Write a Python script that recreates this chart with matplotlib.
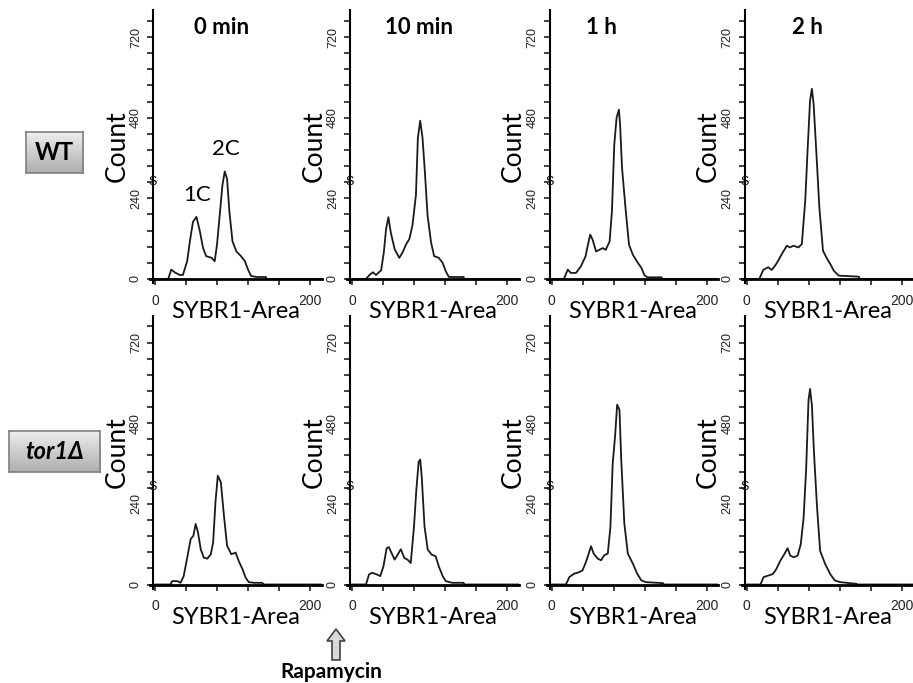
import numpy as np
import matplotlib
matplotlib.use("Agg")
import matplotlib.pyplot as plt
from matplotlib.patches import Polygon

plt.rcParams['font.family'] = ['Lato', 'DejaVu Sans']

# ---- data ----
times = ['0 min', '10 min', '1 h', '2 h']
strains = ['WT', 'tor1Δ']

wt_0_x = [0, 17, 21, 26, 32, 36, 41.5, 45, 49, 53.5, 58, 62, 66, 73, 77, 80, 83.5, 87, 90, 93, 96, 100, 105, 111, 116, 120, 124, 131, 143, 144, 215]
wt_0_y = [0, 0, 28, 19, 12, 12, 53, 112, 170, 185, 141, 92, 68, 63, 53, 102, 190, 279, 320, 298, 200, 112, 82, 68, 53, 28, 9, 6, 6, 0, 0]

wt_10_x = [0, 18, 23, 27, 31, 37.6, 41, 44, 47, 50, 55, 61, 65, 70, 74, 78, 82.5, 85, 88, 91, 94, 97.5, 102, 106, 112, 117, 121, 125, 144, 145, 215]
wt_10_y = [0, 0, 13, 20, 12, 26, 78, 149, 184, 139, 89, 63, 78, 104, 119, 159, 250, 420, 471, 420, 320, 189, 109, 68, 63, 48, 23, 6, 6, 0, 0]

wt_1h_x = [0, 16, 21, 25, 31.5, 38, 44, 47, 50, 53, 57.5, 62, 66, 70, 75, 78, 81, 84, 87, 88.5, 91, 95.5, 100, 105, 111.5, 116, 120, 124, 142, 143, 215]
wt_1h_y = [0, 0, 28, 18, 18, 38, 68, 102, 132, 117, 82, 87, 92, 87, 112, 202, 400, 480, 504, 460, 331, 211, 102, 72, 48, 33, 11, 5, 5, 0, 0]

wt_2h_x = [0, 16.5, 21.6, 28, 32.5, 37, 41, 45.5, 52, 56, 60.6, 67, 71.4, 75.8, 79, 82, 84.4, 86.6, 90, 94, 98.7, 104, 108, 112.5, 119, 145, 146, 215]
wt_2h_y = [0, 0, 27, 35, 27, 40, 55, 74, 99, 94, 99, 94, 104, 233, 392, 531, 566, 521, 382, 213, 84, 60, 45, 25, 10, 7, 0, 0]

tor_0_x = [0, 20, 22, 29, 33, 37, 42, 46, 49.5, 52.5, 55.5, 59, 63, 67.5, 72, 75, 78, 81, 85, 89, 93, 98.5, 104, 108, 113, 117, 121, 128, 138, 141, 215]
tor_0_y = [0, 0, 10, 10, 5, 25, 85, 135, 145, 180, 155, 105, 80, 77, 90, 125, 244, 324, 304, 204, 115, 90, 95, 70, 45, 20, 7, 5, 5, 0, 0]

tor_10_x = [0, 18, 22, 26, 32, 36.4, 40.6, 44.7, 47.6, 51, 55, 59, 63, 67.5, 71.6, 75.8, 80, 83, 86, 88, 90, 93.6, 97.7, 102.7, 108, 112, 117, 121, 129.6, 144, 145, 215]
tor_10_y = [0, 0, 30, 35, 30, 25, 54, 108, 111, 94, 74, 89, 105, 79, 74, 64, 172, 281, 365, 372, 320, 172, 104, 89, 84, 54, 25, 10, 5, 5, 0, 0]

tor_1h_x = [0, 18.6, 23, 29, 36, 40, 44.5, 48, 51, 54.4, 59.6, 64, 68, 72.6, 76, 79, 82, 84.7, 87.7, 90, 94, 98.5, 105, 110.6, 116, 122, 144, 145, 215]
tor_1h_y = [0, 0, 22, 32, 37, 42, 67, 92, 114, 92, 77, 72, 87, 92, 171, 361, 440, 535, 520, 371, 181, 92, 62, 32, 12, 7, 4, 0, 0]

tor_2h_x = [0, 18, 22, 28.7, 34, 38.5, 43.7, 49, 53, 56.5, 61, 66, 70, 73.7, 77, 80, 82, 84.4, 87, 90.8, 95, 101.5, 108, 114, 121, 142, 143, 215]
tor_2h_y = [0, 0, 22, 27, 31, 46, 71, 91, 108, 86, 81, 86, 120, 199, 346, 548, 582, 533, 396, 238, 100, 61, 31, 12, 7, 2, 0, 0]

series = [
    [(wt_0_x, wt_0_y), (wt_10_x, wt_10_y), (wt_1h_x, wt_1h_y), (wt_2h_x, wt_2h_y)],
    [(tor_0_x, tor_0_y), (tor_10_x, tor_10_y), (tor_1h_x, tor_1h_y), (tor_2h_x, tor_2h_y)],
]

title_x = [86, 86, 65, 78]

# ---- layout (pixels of the 913x683 canvas) ----
W, H = 913, 683
col_x0 = [155, 352, 551.5, 746.5]
row_y0 = [279, 584.5]
sx, sy = 0.775, 0.336
XMIN, XMAX, YMIN, YMAX = -6, 215, -12, 800

fig = plt.figure(figsize=(W / 100, H / 100), dpi=100)

for r in range(2):
    for c in range(4):
        left = col_x0[c] + XMIN * sx
        width = (XMAX - XMIN) * sx
        bottom = row_y0[r] - YMIN * sy
        height = (YMAX - YMIN) * sy
        ax = fig.add_axes([left / W, 1 - bottom / H, width / W, height / H])
        ax.set_facecolor('none')
        x, y = series[r][c]
        ax.plot(x, y, color='#1a1a1a', lw=1.3)
        ax.set_xlim(XMIN, XMAX)
        ax.set_ylim(YMIN, YMAX)
        for s in ['top', 'right']:
            ax.spines[s].set_visible(False)
        ax.spines['left'].set_position(('data', -2.5))
        ax.spines['bottom'].set_position(('data', 0))
        ax.spines['left'].set_linewidth(1.5)
        ax.spines['bottom'].set_linewidth(2.0)
        ax.set_xticks([0, 200])
        ax.set_xticks([40, 80, 120, 160], minor=True)
        ax.set_yticks([0, 240, 480, 720])
        ax.set_yticks(np.arange(48, 780, 48), minor=True)
        ax.tick_params(which='both', direction='out', length=4, width=1.2, color='#222222')
        ax.tick_params(axis='x', pad=6.5, labelsize=10)
        ax.tick_params(axis='y', pad=4, labelsize=9)
        for lab in ax.get_xticklabels():
            lab.set_family('Liberation Sans')
            lab.set_color('#222222')
        for lab in ax.get_yticklabels():
            lab.set_family('Liberation Sans')
            lab.set_rotation(90)
            lab.set_va('center')
            lab.set_color('#222222')
        ax.set_xlabel('SYBR1-Area', fontsize=17)
        ax.xaxis.set_label_coords(0.5, (bottom - (row_y0[r] + 32.5)) / height)
        ax.xaxis.label.set_va('center')
        ax.set_ylabel('Count', fontsize=19)
        ax.yaxis.set_label_coords((col_x0[c] - 38 - left) / width, 0.5)
        ax.yaxis.label.set_va('center')
        ax.text(-3, 290, 'S', fontsize=9, family='Liberation Sans', ha='center', va='center')
        if r == 0:
            ax.text(title_x[c], 750, times[c], fontsize=16, fontweight='bold', ha='center', va='center')
        if r == 0 and c == 0:
            ax.text(54, 250, '1C', fontsize=16, ha='center', va='center')
            ax.text(91, 387, '2C', fontsize=16, ha='center', va='center')

# ---- strain label boxes with gray gradient ----
grad = np.linspace(0.93, 0.68, 64).reshape(-1, 1)
boxes = [(26, 132, 57, 41, 'WT', 'normal'), (9, 431, 91, 41, 'tor1Δ', 'italic')]
for bx, by, bw, bh, txt, style in boxes:
    bax = fig.add_axes([bx / W, 1 - (by + bh) / H, bw / W, bh / H])
    bax.imshow(grad, cmap='gray', vmin=0, vmax=1, aspect='auto', extent=[0, 1, 0, 1])
    bax.set_xticks([])
    bax.set_yticks([])
    for s in bax.spines.values():
        s.set_color('#7f7f7f')
        s.set_linewidth(1.2)
    bax.text(0.5, 0.5, txt, fontsize=17, fontweight='bold', style=style,
             ha='center', va='center', transform=bax.transAxes)

# ---- rapamycin arrow ----
arrow_px = [(336, 629), (345, 641), (340, 641), (340, 660), (332, 660), (332, 641), (327, 641)]
arrow = Polygon([(px / W, 1 - py / H) for px, py in arrow_px], closed=True,
                facecolor='#d9d9d9', edgecolor='#404040', lw=1.2, transform=fig.transFigure)
fig.patches.append(arrow)
fig.text(331 / W, 1 - 672 / H, 'Rapamycin', fontsize=15, fontweight='bold', ha='center', va='center')

fig.savefig('out.png', dpi=100)
